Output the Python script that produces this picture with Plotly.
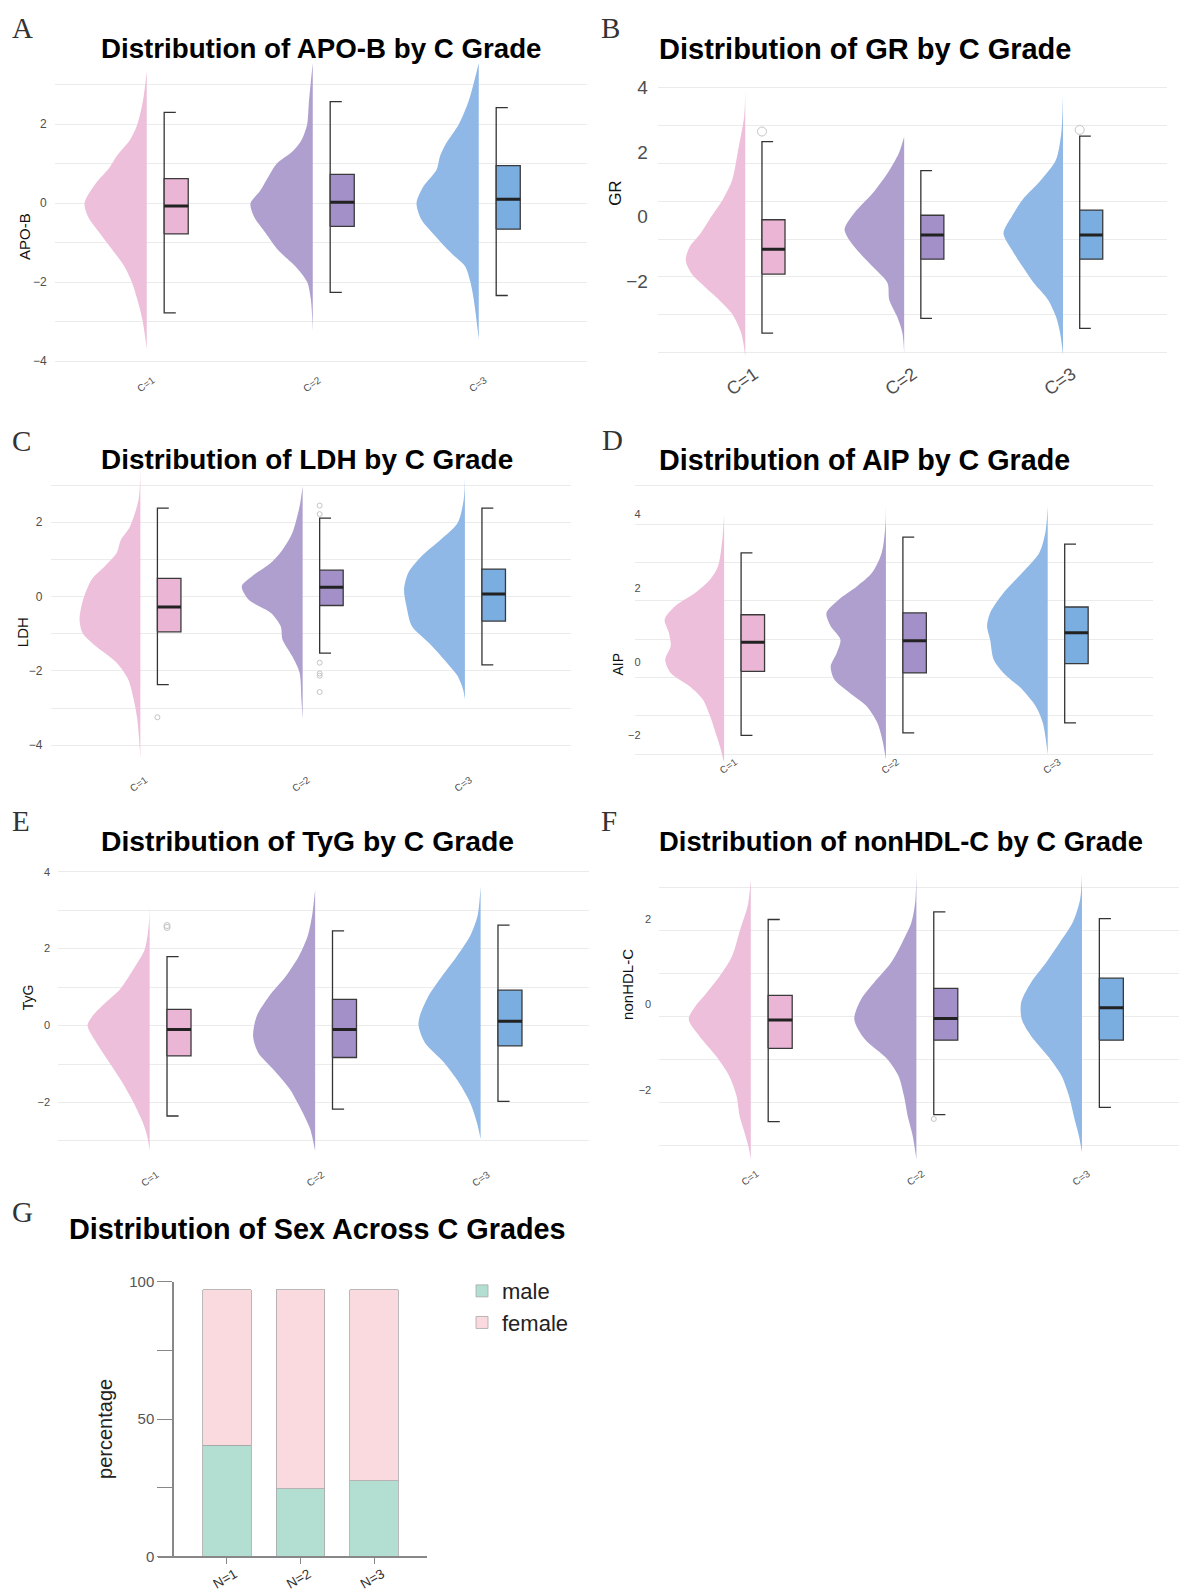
import plotly.graph_objects as go

W, H = 1179, 1593
grades = ["C=1", "C=2", "C=3"]
positions = [1, 2, 3]

# ---------------- APO-B ----------------
apob_dens_y = [[3.35, 2.6, 2.0, 1.6, 1.2, 0.9, 0.5, 0.0, -0.35, -0.75, -1.25, -1.6, -2.0, -2.45, -2.95, -3.7],
               [3.55, 2.6, 2.0, 1.6, 1.3, 1.0, 0.65, 0.3, 0.0, -0.35, -0.75, -1.2, -1.6, -2.0, -2.45, -3.25],
               [3.55, 2.6, 2.0, 1.5, 1.2, 0.84, 0.42, 0.0, -0.42, -0.76, -1.27, -1.6, -2.03, -2.45, -3.45]]
apob_dens_w = [[0, 0.06, 0.15, 0.27, 0.48, 0.6, 0.82, 1.0, 0.94, 0.76, 0.52, 0.36, 0.24, 0.15, 0.07, 0],
               [0, 0.06, 0.09, 0.18, 0.33, 0.58, 0.72, 0.85, 1.0, 0.94, 0.76, 0.55, 0.28, 0.09, 0.03, 0],
               [0, 0.16, 0.32, 0.53, 0.62, 0.68, 0.89, 1.0, 0.92, 0.74, 0.44, 0.22, 0.13, 0.08, 0]]
apob_q1 = [-0.78, -0.59, -0.66]
apob_median = [-0.07, 0.02, 0.10]
apob_q3 = [0.62, 0.73, 0.95]
apob_lower = [-2.78, -2.26, -2.34]
apob_upper = [2.30, 2.57, 2.42]
apob_outliers = [[], [], []]

# ---------------- GR ----------------
gr_dens_y = [[3.92, 3.09, 2.06, 1.13, 0.52, 0.0, -0.52, -0.93, -1.34, -1.75, -2.16, -2.58, -2.99, -3.6, -4.33],
             [2.47, 1.96, 1.34, 0.72, 0.1, -0.41, -0.93, -1.55, -2.06, -2.58, -3.09, -3.6, -4.23],
             [3.81, 2.58, 1.75, 1.13, 0.52, 0.0, -0.52, -1.03, -1.55, -2.06, -2.58, -3.09, -3.6, -4.28]]
gr_dens_w = [[0, 0.02, 0.12, 0.22, 0.38, 0.57, 0.75, 0.93, 1.0, 0.91, 0.69, 0.44, 0.23, 0.07, 0],
             [0, 0.09, 0.28, 0.53, 0.84, 1.0, 0.84, 0.53, 0.28, 0.25, 0.12, 0.03, 0],
             [0, 0.03, 0.12, 0.37, 0.68, 0.86, 1.0, 0.86, 0.68, 0.49, 0.25, 0.12, 0.05, 0]]
gr_q1 = [-1.78, -1.32, -1.32]
gr_median = [-1.01, -0.57, -0.57]
gr_q3 = [-0.10, 0.04, 0.20]
gr_lower = [-3.61, -3.15, -3.46]
gr_upper = [2.32, 1.42, 2.49]
gr_outliers = [[2.63], [], [2.68]]

# ---------------- LDH ----------------
ldh_dens_y = [[3.42, 2.61, 1.89, 1.53, 1.17, 0.82, 0.46, -0.08, -0.62, -0.98, -1.34, -1.78, -2.23, -2.77, -3.31, -4.34],
              [2.97, 2.43, 1.71, 1.26, 0.91, 0.55, 0.28, -0.08, -0.44, -0.8, -1.16, -1.61, -2.05, -2.77, -3.31],
              [3.24, 2.61, 1.98, 1.53, 1.09, 0.64, 0.19, -0.26, -0.8, -1.25, -1.7, -2.14, -2.5, -2.77]]
ldh_dens_w = [[0, 0.03, 0.17, 0.32, 0.39, 0.58, 0.8, 0.94, 1.0, 0.95, 0.73, 0.39, 0.2, 0.11, 0.05, 0],
              [0, 0.05, 0.17, 0.33, 0.52, 0.83, 1.0, 0.89, 0.52, 0.36, 0.33, 0.17, 0.05, 0.02, 0],
              [0, 0.02, 0.12, 0.4, 0.71, 0.93, 1.0, 0.96, 0.87, 0.59, 0.34, 0.12, 0.03, 0]]
ldh_q1 = [-0.95, -0.24, -0.66]
ldh_median = [-0.28, 0.25, 0.07]
ldh_q3 = [0.49, 0.71, 0.74]
ldh_lower = [-2.37, -1.52, -1.84]
ldh_upper = [2.38, 2.11, 2.38]
ldh_outliers = [[-3.25], [2.45, 2.22, -1.78, -2.07, -2.13, -2.57], []]

# ---------------- AIP ----------------
aip_dens_y = [[4.0, 3.32, 2.6, 2.24, 1.87, 1.51, 1.15, 0.79, 0.43, 0.06, -0.3, -0.66, -1.02, -1.48, -1.93, -2.29, -2.74],
              [4.41, 3.68, 2.96, 2.42, 2.05, 1.69, 1.33, 0.97, 0.61, 0.24, -0.12, -0.48, -0.84, -1.2, -1.66, -2.11, -2.65],
              [4.23, 3.5, 2.96, 2.42, 1.87, 1.33, 0.97, 0.61, 0.06, -0.3, -0.75, -1.2, -1.66, -2.52]]
aip_dens_w = [[0, 0.03, 0.1, 0.23, 0.48, 0.81, 0.98, 0.91, 0.88, 0.97, 0.88, 0.57, 0.35, 0.23, 0.14, 0.07, 0],
              [0, 0.01, 0.07, 0.23, 0.48, 0.78, 0.98, 0.91, 0.75, 0.81, 0.91, 0.85, 0.6, 0.32, 0.14, 0.06, 0],
              [0, 0.04, 0.14, 0.42, 0.73, 0.95, 1.0, 0.95, 0.89, 0.73, 0.42, 0.2, 0.08, 0]]
aip_q1 = [-0.26, -0.30, -0.05]
aip_median = [0.53, 0.57, 0.79]
aip_q3 = [1.28, 1.33, 1.49]
aip_lower = [-2.00, -1.93, -1.66]
aip_upper = [2.96, 3.39, 3.20]
aip_outliers = [[], [], []]

# ---------------- TyG ----------------
tyg_dens_y = [[3.5, 2.68, 1.98, 1.55, 0.94, 0.6, 0.25, 0.0, -0.44, -0.96, -1.48, -2.0, -2.52, -2.87, -3.26],
              [3.54, 2.85, 2.33, 1.81, 1.29, 0.77, 0.25, -0.27, -0.7, -1.13, -1.65, -2.17, -2.69, -3.26],
              [3.63, 2.85, 2.33, 1.81, 1.29, 0.77, 0.25, 0.0, -0.44, -0.96, -1.48, -2.0, -2.52, -2.95]]
tyg_dens_w = [[0, 0.01, 0.08, 0.23, 0.48, 0.71, 0.92, 1.0, 0.86, 0.65, 0.44, 0.26, 0.11, 0.04, 0],
              [0, 0.05, 0.12, 0.26, 0.47, 0.74, 0.94, 1.0, 0.92, 0.68, 0.41, 0.23, 0.08, 0],
              [0, 0.05, 0.17, 0.38, 0.62, 0.84, 0.98, 1.0, 0.9, 0.59, 0.35, 0.17, 0.06, 0]]
tyg_q1 = [-0.79, -0.83, -0.53]
tyg_median = [-0.10, -0.10, 0.11]
tyg_q3 = [0.42, 0.68, 0.92]
tyg_lower = [-2.35, -2.17, -1.97]
tyg_upper = [1.79, 2.46, 2.61]
tyg_outliers = [[2.55, 2.60], [], []]

# ---------------- nonHDL-C ----------------
nhdl_dens_y = [[2.92, 2.3, 1.75, 1.13, 0.66, 0.27, -0.04, -0.35, -0.74, -1.21, -1.67, -2.14, -2.61, -3.0, -3.31, -3.62],
               [3.11, 2.37, 1.91, 1.44, 0.97, 0.51, 0.12, -0.35, -0.82, -1.28, -1.67, -2.14, -2.61, -3.07, -3.62],
               [3.04, 2.45, 1.91, 1.44, 0.97, 0.51, 0.04, -0.35, -0.74, -1.21, -1.67, -2.14, -2.68, -3.07, -3.46]]
nhdl_dens_w = [[0, 0.05, 0.17, 0.3, 0.5, 0.71, 0.89, 1.0, 0.83, 0.56, 0.35, 0.23, 0.18, 0.1, 0.04, 0],
               [0, 0.02, 0.08, 0.23, 0.41, 0.68, 0.89, 1.0, 0.83, 0.47, 0.29, 0.2, 0.14, 0.06, 0],
               [0, 0.03, 0.15, 0.36, 0.58, 0.82, 0.98, 0.97, 0.82, 0.55, 0.33, 0.21, 0.12, 0.05, 0]]
nhdl_q1 = [-1.03, -0.84, -0.84]
nhdl_median = [-0.37, -0.33, -0.08]
nhdl_q3 = [0.21, 0.37, 0.61]
nhdl_lower = [-2.74, -2.58, -2.41]
nhdl_upper = [1.98, 2.16, 2.00]
nhdl_outliers = [[], [-2.68], []]

# ---------------- Sex ----------------
sex_groups = ["N=1", "N=2", "N=3"]
male_pct = [40.5, 24.7, 27.5]
female_pct = [56.6, 72.4, 69.6]
pct_tickvals = [0, 25, 50, 75, 100]
pct_ticktext = ["0", "", "50", "", "100"]

# ---------------- styling ----------------
FONT = "Liberation Sans, Arial, sans-serif"
SERIF = "Liberation Serif, Times New Roman, serif"
violin_fill = ["#EDBFDA", "#AE9FCF", "#8FB8E6"]
box_fill = ["#EBB6D5", "#A390C8", "#7AADE0"]
GRID = "#EBEBEB"
TICKC = "#4D4D4D"
VW = 0.375
BOX_L, BOX_R, CAP_R = 0.105, 0.25, 0.175
# the photographed page carries a small vertical margin; place items so they land on target
Y_SCALE = 1593 / 1609
Y_OFF = 9.0


def fx(px):
    return px / W


def fy(py):
    return 1 - ((py - Y_OFF) / Y_SCALE) / H


panels = [
    dict(letter="A", title="Distribution of APO-B by C Grade", ytitle="APO-B", tsz=27.7,
         dy=apob_dens_y, dw=apob_dens_w, q1=apob_q1, med=apob_median, q3=apob_q3,
         lo=apob_lower, hi=apob_upper, out=apob_outliers,
         px=(55.1, 587), py=(59, 367), yr=[-4.144, 3.653], xr=[0.448, 3.652],
         ticks=[-4, -2, 0, 2], aligned=True, g0=0, gd=1, ytf=12, xtf=10, xta=-35, osz=5,
         xshift=6, xstand=0, ystand=0,
         lxy=(22.6, 28), txy=(98.6, 49), yxy=(24.5, 236.7), yts=15),
    dict(letter="B", title="Distribution of GR by C Grade", ytitle="GR", tsz=29,
         dy=gr_dens_y, dw=gr_dens_w, q1=gr_q1, med=gr_median, q3=gr_q3,
         lo=gr_lower, hi=gr_upper, out=gr_outliers,
         px=(657.6, 1166.6), py=(82, 360), yr=[-4.433, 4.165], xr=[0.448, 3.652],
         ticks=[-2, 0, 2, 4], aligned=False, g0=0.474, gd=1.172, ytf=19, xtf=18, xta=-35, osz=9,
         xshift=9, xstand=-7, ystand=0,
         lxy=(610.7, 28), txy=(656.5, 49), yxy=(616, 193), yts=17),
    dict(letter="C", title="Distribution of LDH by C Grade", ytitle="LDH", tsz=27.9,
         dy=ldh_dens_y, dw=ldh_dens_w, q1=ldh_q1, med=ldh_median, q3=ldh_q3,
         lo=ldh_lower, hi=ldh_upper, out=ldh_outliers,
         px=(50.8, 570.7), py=(468, 761), yr=[-4.412, 3.471], xr=[0.448, 3.652],
         ticks=[-4, -2, 0, 2], aligned=True, g0=0, gd=1, ytf=12, xtf=10, xta=-35, osz=5,
         xshift=5, xstand=6, ystand=0,
         lxy=(21.7, 441), txy=(98.6, 460), yxy=(22.6, 633), yts=15),
    dict(letter="D", title="Distribution of AIP by C Grade", ytitle="AIP", tsz=28.7,
         dy=aip_dens_y, dw=aip_dens_w, q1=aip_q1, med=aip_median, q3=aip_q3,
         lo=aip_lower, hi=aip_upper, out=aip_outliers,
         px=(634.8, 1153.2), py=(483, 762), yr=[-2.706, 4.869], xr=[0.448, 3.652],
         ticks=[-2, 0, 2, 4], aligned=False, g0=0.615, gd=1.043, ytf=11, xtf=10, xta=-35, osz=5,
         xshift=11, xstand=-13, ystand=-14,
         lxy=(612.5, 440), txy=(656.5, 460), yxy=(618, 665), yts=14),
    dict(letter="E", title="Distribution of TyG by C Grade", ytitle="TyG", tsz=28.3,
         dy=tyg_dens_y, dw=tyg_dens_w, q1=tyg_q1, med=tyg_median, q3=tyg_q3,
         lo=tyg_lower, hi=tyg_upper, out=tyg_outliers,
         px=(58.3, 588.5), py=(870, 1154), yr=[-3.316, 4.06], xr=[0.448, 3.652],
         ticks=[-2, 0, 2, 4], aligned=True, g0=0, gd=1, ytf=11, xtf=10, xta=-35, osz=6,
         xshift=7, xstand=8, ystand=0,
         lxy=(20.7, 822), txy=(98.6, 842), yxy=(28, 998), yts=14),
    dict(letter="F", title="Distribution of nonHDL-C by C Grade", ytitle="nonHDL-C", tsz=27.4,
         dy=nhdl_dens_y, dw=nhdl_dens_w, q1=nhdl_q1, med=nhdl_median, q3=nhdl_q3,
         lo=nhdl_lower, hi=nhdl_upper, out=nhdl_outliers,
         px=(659.4, 1179), py=(869, 1164), yr=[-3.712, 3.175], xr=[0.448, 3.586],
         ticks=[-2, 0, 2], aligned=False, g0=-0.28, gd=1.003, ytf=11, xtf=10, xta=-35, osz=5,
         xshift=6, xstand=-3, ystand=0,
         lxy=(608.8, 822), txy=(656.5, 842), yxy=(627.6, 985), yts=15),
]

fig = go.Figure()
layout = {}
annotations = []

for k, p in enumerate(panels, start=1):
    xa, ya = f"x{k}", f"y{k}"
    for g in range(3):
        pos = positions[g]
        fig.add_trace(go.Scatter(
            x=[pos - VW * w for w in p["dw"][g]], y=p["dy"][g],
            mode="lines", line=dict(width=0, shape="spline", smoothing=0.8),
            fill="toself", fillcolor=violin_fill[g],
            xaxis=xa, yaxis=ya, showlegend=False, hoverinfo="skip"))
        xl, xr, xc = pos + BOX_L, pos + BOX_R, pos + CAP_R
        lo, q1, md, q3, hi = p["lo"][g], p["q1"][g], p["med"][g], p["q3"][g], p["hi"][g]
        fig.add_trace(go.Scatter(
            x=[xc, xl, xl, xc], y=[hi, hi, lo, lo], mode="lines",
            line=dict(color="#333333", width=1.3),
            xaxis=xa, yaxis=ya, showlegend=False, hoverinfo="skip"))
        fig.add_trace(go.Scatter(
            x=[xl, xr, xr, xl, xl], y=[q1, q1, q3, q3, q1], mode="lines",
            fill="toself", fillcolor=box_fill[g],
            line=dict(color="#3A3A3A", width=1.3),
            xaxis=xa, yaxis=ya, showlegend=False, hoverinfo="skip"))
        fig.add_trace(go.Scatter(
            x=[xl, xr], y=[md, md], mode="lines",
            line=dict(color="#222222", width=3),
            xaxis=xa, yaxis=ya, showlegend=False, hoverinfo="skip"))
        if p["out"][g]:
            fig.add_trace(go.Scatter(
                x=[xl] * len(p["out"][g]), y=p["out"][g], mode="markers",
                marker=dict(symbol="circle-open", size=p["osz"], color="#C4C4C4",
                            line=dict(width=1)),
                xaxis=xa, yaxis=ya, showlegend=False, hoverinfo="skip"))

    layout[f"xaxis{k}"] = dict(
        domain=[fx(p["px"][0]), fx(p["px"][1])], range=p["xr"], anchor=ya,
        tickmode="array", tickvals=positions, ticktext=grades,
        tickangle=p["xta"], tickfont=dict(family=FONT, size=p["xtf"], color=TICKC),
        ticks="outside", ticklen=3, tickcolor="rgba(0,0,0,0)",
        ticklabelshift=p["xshift"], ticklabelstandoff=p["xstand"],
        showgrid=False, zeroline=False, showline=False, fixedrange=True)
    layout[f"yaxis{k}"] = dict(
        domain=[fy(p["py"][1]), fy(p["py"][0])], range=p["yr"], anchor=xa,
        tickmode="array", tickvals=p["ticks"],
        tickfont=dict(family=FONT, size=p["ytf"], color=TICKC),
        ticks="outside", ticklen=5, tickcolor="rgba(0,0,0,0)",
        ticklabelstandoff=p["ystand"],
        showgrid=p["aligned"], gridcolor=GRID, gridwidth=1,
        minor=dict(tickmode="linear", tick0=p["g0"], dtick=p["gd"],
                   showgrid=True, gridcolor=GRID, gridwidth=1, ticks=""),
        zeroline=False, showline=False, fixedrange=True)

    annotations.append(dict(text=p["letter"], x=fx(p["lxy"][0]), y=fy(p["lxy"][1]),
                            xref="paper", yref="paper", showarrow=False,
                            xanchor="center", yanchor="middle",
                            font=dict(family=SERIF, size=29, color="#333333")))
    annotations.append(dict(text="<b>" + p["title"] + "</b>", x=fx(p["txy"][0]), y=fy(p["txy"][1]),
                            xref="paper", yref="paper", showarrow=False,
                            xanchor="left", yanchor="middle",
                            font=dict(family=FONT, size=p["tsz"], color="#000000")))
    annotations.append(dict(text=p["ytitle"], x=fx(p["yxy"][0]), y=fy(p["yxy"][1]),
                            xref="paper", yref="paper", showarrow=False, textangle=-90,
                            xanchor="center", yanchor="middle",
                            font=dict(family=FONT, size=p["yts"], color="#111111")))

# ---------------- Panel G: stacked bar ----------------
fig.add_trace(go.Bar(x=sex_groups, y=male_pct, name="male", width=0.66, legendgroup="m",
                     marker=dict(color="#B3DFD2", line=dict(color="#A8A8A8", width=0.8)),
                     xaxis="x7", yaxis="y7", hoverinfo="skip"))
fig.add_trace(go.Bar(x=sex_groups, y=female_pct, name="female", width=0.66, legendgroup="f",
                     marker=dict(color="#FADADF", line=dict(color="#A8A8A8", width=0.8)),
                     xaxis="x7", yaxis="y7", hoverinfo="skip"))

layout["xaxis7"] = dict(
    domain=[fx(158), fx(427)], range=[-0.935, 2.717], anchor="y7", type="category",
    tickangle=-30, tickfont=dict(family=FONT, size=13.5, color="#333333"),
    ticks="outside", ticklen=6, tickcolor="#888888", tickwidth=1,
    ticklabelshift=8, ticklabelstandoff=-3,
    showline=True, linecolor="#888888", linewidth=1.5,
    showgrid=False, zeroline=False, fixedrange=True)
layout["yaxis7"] = dict(
    domain=[fy(1557.5), fy(1282.7)], range=[0, 100], anchor="free", position=fx(173),
    tickmode="array", tickvals=pct_tickvals, ticktext=pct_ticktext,
    tickfont=dict(family=FONT, size=15, color="#555555"),
    ticks="outside", ticklen=15, tickcolor="#888888", tickwidth=1,
    showline=True, linecolor="#888888", linewidth=1.5,
    showgrid=False, zeroline=False, fixedrange=True)

annotations.append(dict(text="G", x=fx(22.6), y=fy(1213), xref="paper", yref="paper",
                        showarrow=False, xanchor="center", yanchor="middle",
                        font=dict(family=SERIF, size=29, color="#333333")))
annotations.append(dict(text="<b>Distribution of Sex Across C Grades</b>", x=fx(67), y=fy(1230),
                        xref="paper", yref="paper", showarrow=False, xanchor="left", yanchor="middle",
                        font=dict(family=FONT, size=28.8, color="#000000")))
annotations.append(dict(text="percentage", x=fx(105), y=fy(1430), xref="paper", yref="paper",
                        showarrow=False, textangle=-90, xanchor="center", yanchor="middle",
                        font=dict(family=FONT, size=20, color="#222222")))

fig.update_layout(
    width=W, height=H, margin=dict(l=0, r=0, t=0, b=0),
    paper_bgcolor="white", plot_bgcolor="white",
    barmode="stack", bargap=0.34,
    font=dict(family=FONT),
    showlegend=True,
    legend=dict(x=fx(462), y=fy(1271), xanchor="left", yanchor="top",
                font=dict(family=FONT, size=22, color="#222222"),
                bgcolor="rgba(0,0,0,0)", traceorder="normal", tracegroupgap=3, itemwidth=30),
    annotations=annotations,
    **layout)

fig.write_html("out.html")
